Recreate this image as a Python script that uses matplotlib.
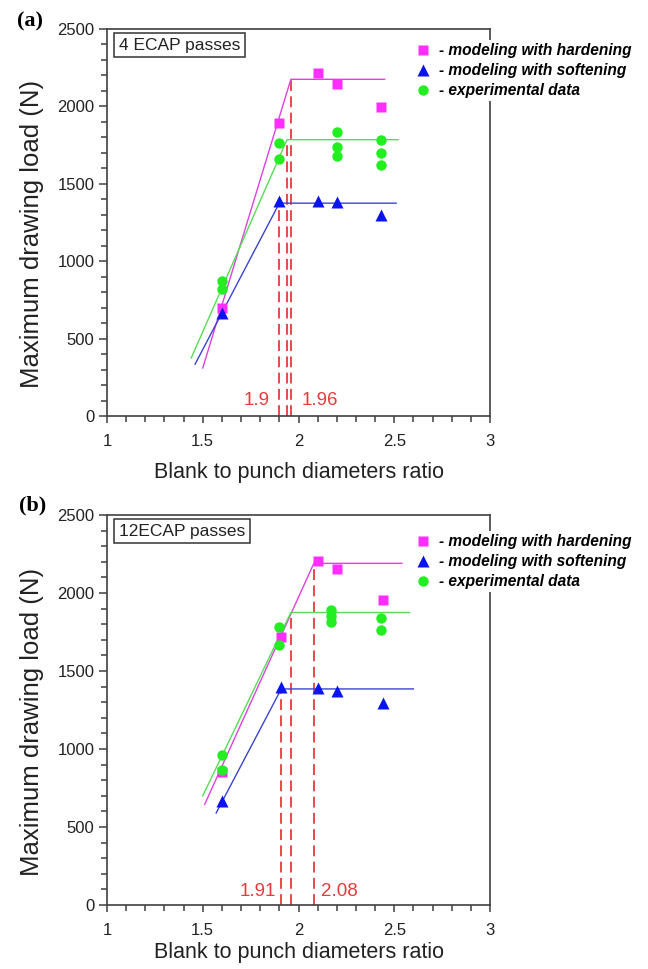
import matplotlib
matplotlib.use("Agg")
import matplotlib.pyplot as plt
from matplotlib.lines import Line2D
from matplotlib.ticker import MultipleLocator

plt.rcParams['font.family'] = ['Liberation Sans', 'DejaVu Sans']

# ---- (a) 4 ECAP passes ----
a_hard_ratio = [1.6, 1.9, 2.1, 2.2, 2.43]
a_hard_load = [700, 1890, 2215, 2145, 1995]
a_soft_ratio = [1.6, 1.9, 2.1, 2.2, 2.43]
a_soft_load = [665, 1390, 1390, 1380, 1300]
a_exp_ratio = [1.6, 1.6, 1.9, 1.9, 2.2, 2.2, 2.2, 2.43, 2.43, 2.43]
a_exp_load = [875, 820, 1765, 1660, 1835, 1735, 1680, 1780, 1700, 1620]

# bilinear approximations (start, break point, end)
a_fit_hard_x = [1.50, 1.96, 2.45]
a_fit_hard_y = [310, 2175, 2175]
a_fit_soft_x = [1.46, 1.90, 2.51]
a_fit_soft_y = [335, 1375, 1375]
a_fit_exp_x = [1.44, 1.94, 2.52]
a_fit_exp_y = [375, 1785, 1785]

# ---- (b) 12 ECAP passes ----
b_hard_ratio = [1.6, 1.91, 2.1, 2.2, 2.44]
b_hard_load = [850, 1715, 2205, 2155, 1955]
b_soft_ratio = [1.6, 1.91, 2.1, 2.2, 2.44]
b_soft_load = [665, 1395, 1390, 1375, 1295]
b_exp_ratio = [1.6, 1.6, 1.9, 1.9, 2.17, 2.17, 2.17, 2.43, 2.43]
b_exp_load = [960, 865, 1785, 1665, 1890, 1855, 1815, 1840, 1760]

b_fit_hard_x = [1.51, 2.08, 2.54]
b_fit_hard_y = [645, 2190, 2190]
b_fit_soft_x = [1.57, 1.91, 2.60]
b_fit_soft_y = [590, 1385, 1385]
b_fit_exp_x = [1.50, 1.96, 2.58]
b_fit_exp_y = [700, 1875, 1875]

legend_labels = ['- modeling with hardening', '- modeling with softening', '- experimental data']

C_HARD = '#ff2dff'
C_SOFT = '#0a14f0'
C_EXP = '#22ee22'
L_HARD = '#e040e0'
L_SOFT = '#3a44d0'
L_EXP = '#55dd55'
C_RED = '#e83a3a'
SPINE = '#404040'

fig = plt.figure(figsize=(6.48, 9.69), dpi=100)
W, H = 648.0, 969.0


def make_axes(left, top, right, bottom):
    return fig.add_axes([left / W, 1 - bottom / H, (right - left) / W, (bottom - top) / H])


def draw_panel(ax, tag, box_text, hard, soft, exp, fits, marks, legend_top, xlabel_pad):
    (hx, hy), (sx, sy), (ex, ey) = hard, soft, exp
    (fhx, fhy), (fsx, fsy), (fex, fey) = fits

    # fitted lines
    ax.plot(fhx, fhy, color=L_HARD, lw=1.0, zorder=3)
    ax.plot(fex, fey, color=L_EXP, lw=1.0, zorder=3)
    ax.plot(fsx, fsy, color=L_SOFT, lw=1.0, zorder=3)

    # dashed drops from each break point
    for fx, fy in ((fsx, fsy), (fex, fey), (fhx, fhy)):
        ax.vlines(fx[1], 0, fy[1], colors=C_RED, linestyles=(0, (6, 3)), lw=1.3, zorder=2)

    # data points
    ax.plot(hx, hy, 's', color=C_HARD, ms=7, mec='none', zorder=4)
    ax.plot(ex, ey, 'o', color=C_EXP, ms=7.5, mec='none', zorder=4)
    ax.plot(sx, sy, '^', color=C_SOFT, ms=9, mec='none', zorder=4)

    # break-point value labels
    for value, dx, ha, yv in marks:
        ax.annotate(f'{value}', xy=(value, yv), xytext=(dx, 0), textcoords='offset points',
                    ha=ha, va='center', color=C_RED, fontsize=13.5)

    ax.set_xlim(1, 3)
    ax.set_ylim(0, 2500)
    ax.xaxis.set_major_locator(MultipleLocator(0.5))
    ax.xaxis.set_minor_locator(MultipleLocator(0.1))
    ax.yaxis.set_major_locator(MultipleLocator(500))
    ax.yaxis.set_minor_locator(MultipleLocator(100))
    ax.set_xticks([1, 1.5, 2, 2.5, 3])
    ax.set_xticklabels(['1', '1.5', '2', '2.5', '3'])
    ax.tick_params(axis='both', which='both', direction='out', color=SPINE, width=1.1,
                   labelsize=12, labelcolor='#222222', top=False, right=False)
    ax.tick_params(axis='y', which='major', length=6, pad=3)
    ax.tick_params(axis='y', which='minor', length=4)
    ax.tick_params(axis='x', which='major', length=5, pad=8)
    ax.tick_params(axis='x', which='minor', length=4.5)
    for s in ax.spines.values():
        s.set_color(SPINE)
        s.set_linewidth(1.2)

    ax.set_xlabel('Blank to punch diameters ratio', fontsize=15.5, color='#222222',
                  labelpad=xlabel_pad)
    ax.set_ylabel('Maximum drawing load (N)', fontsize=18.5, color='#222222')
    ax.yaxis.set_label_coords(-0.165, 0.47)

    ax.text(0.031, 0.978, box_text, transform=ax.transAxes, ha='left', va='top',
            fontsize=12.5, color='#222222',
            bbox=dict(boxstyle='square,pad=0.26', fc='white', ec='#333333', lw=1.1))

    handles = [Line2D([], [], ls='none', marker='s', color=C_HARD, ms=7, mec='none'),
               Line2D([], [], ls='none', marker='^', color=C_SOFT, ms=9, mec='none'),
               Line2D([], [], ls='none', marker='o', color=C_EXP, ms=7.5, mec='none')]
    leg = ax.legend(handles, legend_labels, loc='upper left',
                    bbox_to_anchor=(412 / W, 1 - legend_top / H), bbox_transform=fig.transFigure,
                    frameon=True, framealpha=1, facecolor='white', edgecolor='none',
                    prop=dict(family='Liberation Sans', weight='bold', style='italic', size=11.2),
                    handlelength=1.0, handletextpad=0.55, labelspacing=0.33, borderpad=0.2,
                    borderaxespad=0)
    leg.set_zorder(10)

    fig.text(tag[1] / W, 1 - tag[2] / H, tag[0], family='Liberation Serif', weight='bold',
             fontsize=16, ha='left', va='center')


ax_a = make_axes(107, 29, 490, 416)
draw_panel(ax_a, ('(a)', 17, 21), '4 ECAP passes',
           (a_hard_ratio, a_hard_load), (a_soft_ratio, a_soft_load), (a_exp_ratio, a_exp_load),
           ((a_fit_hard_x, a_fit_hard_y), (a_fit_soft_x, a_fit_soft_y), (a_fit_exp_x, a_fit_exp_y)),
           [(1.9, -7, 'right', 100), (1.96, 8, 'left', 100)], 40, 9)

ax_b = make_axes(107, 515, 490, 905)
draw_panel(ax_b, ('(b)', 19, 505), '12ECAP passes',
           (b_hard_ratio, b_hard_load), (b_soft_ratio, b_soft_load), (b_exp_ratio, b_exp_load),
           ((b_fit_hard_x, b_fit_hard_y), (b_fit_soft_x, b_fit_soft_y), (b_fit_exp_x, b_fit_exp_y)),
           [(1.91, -4, 'right', 85), (2.08, 5, 'left', 85)], 531, 3)

fig.savefig('out.png', dpi=100, facecolor='white')
